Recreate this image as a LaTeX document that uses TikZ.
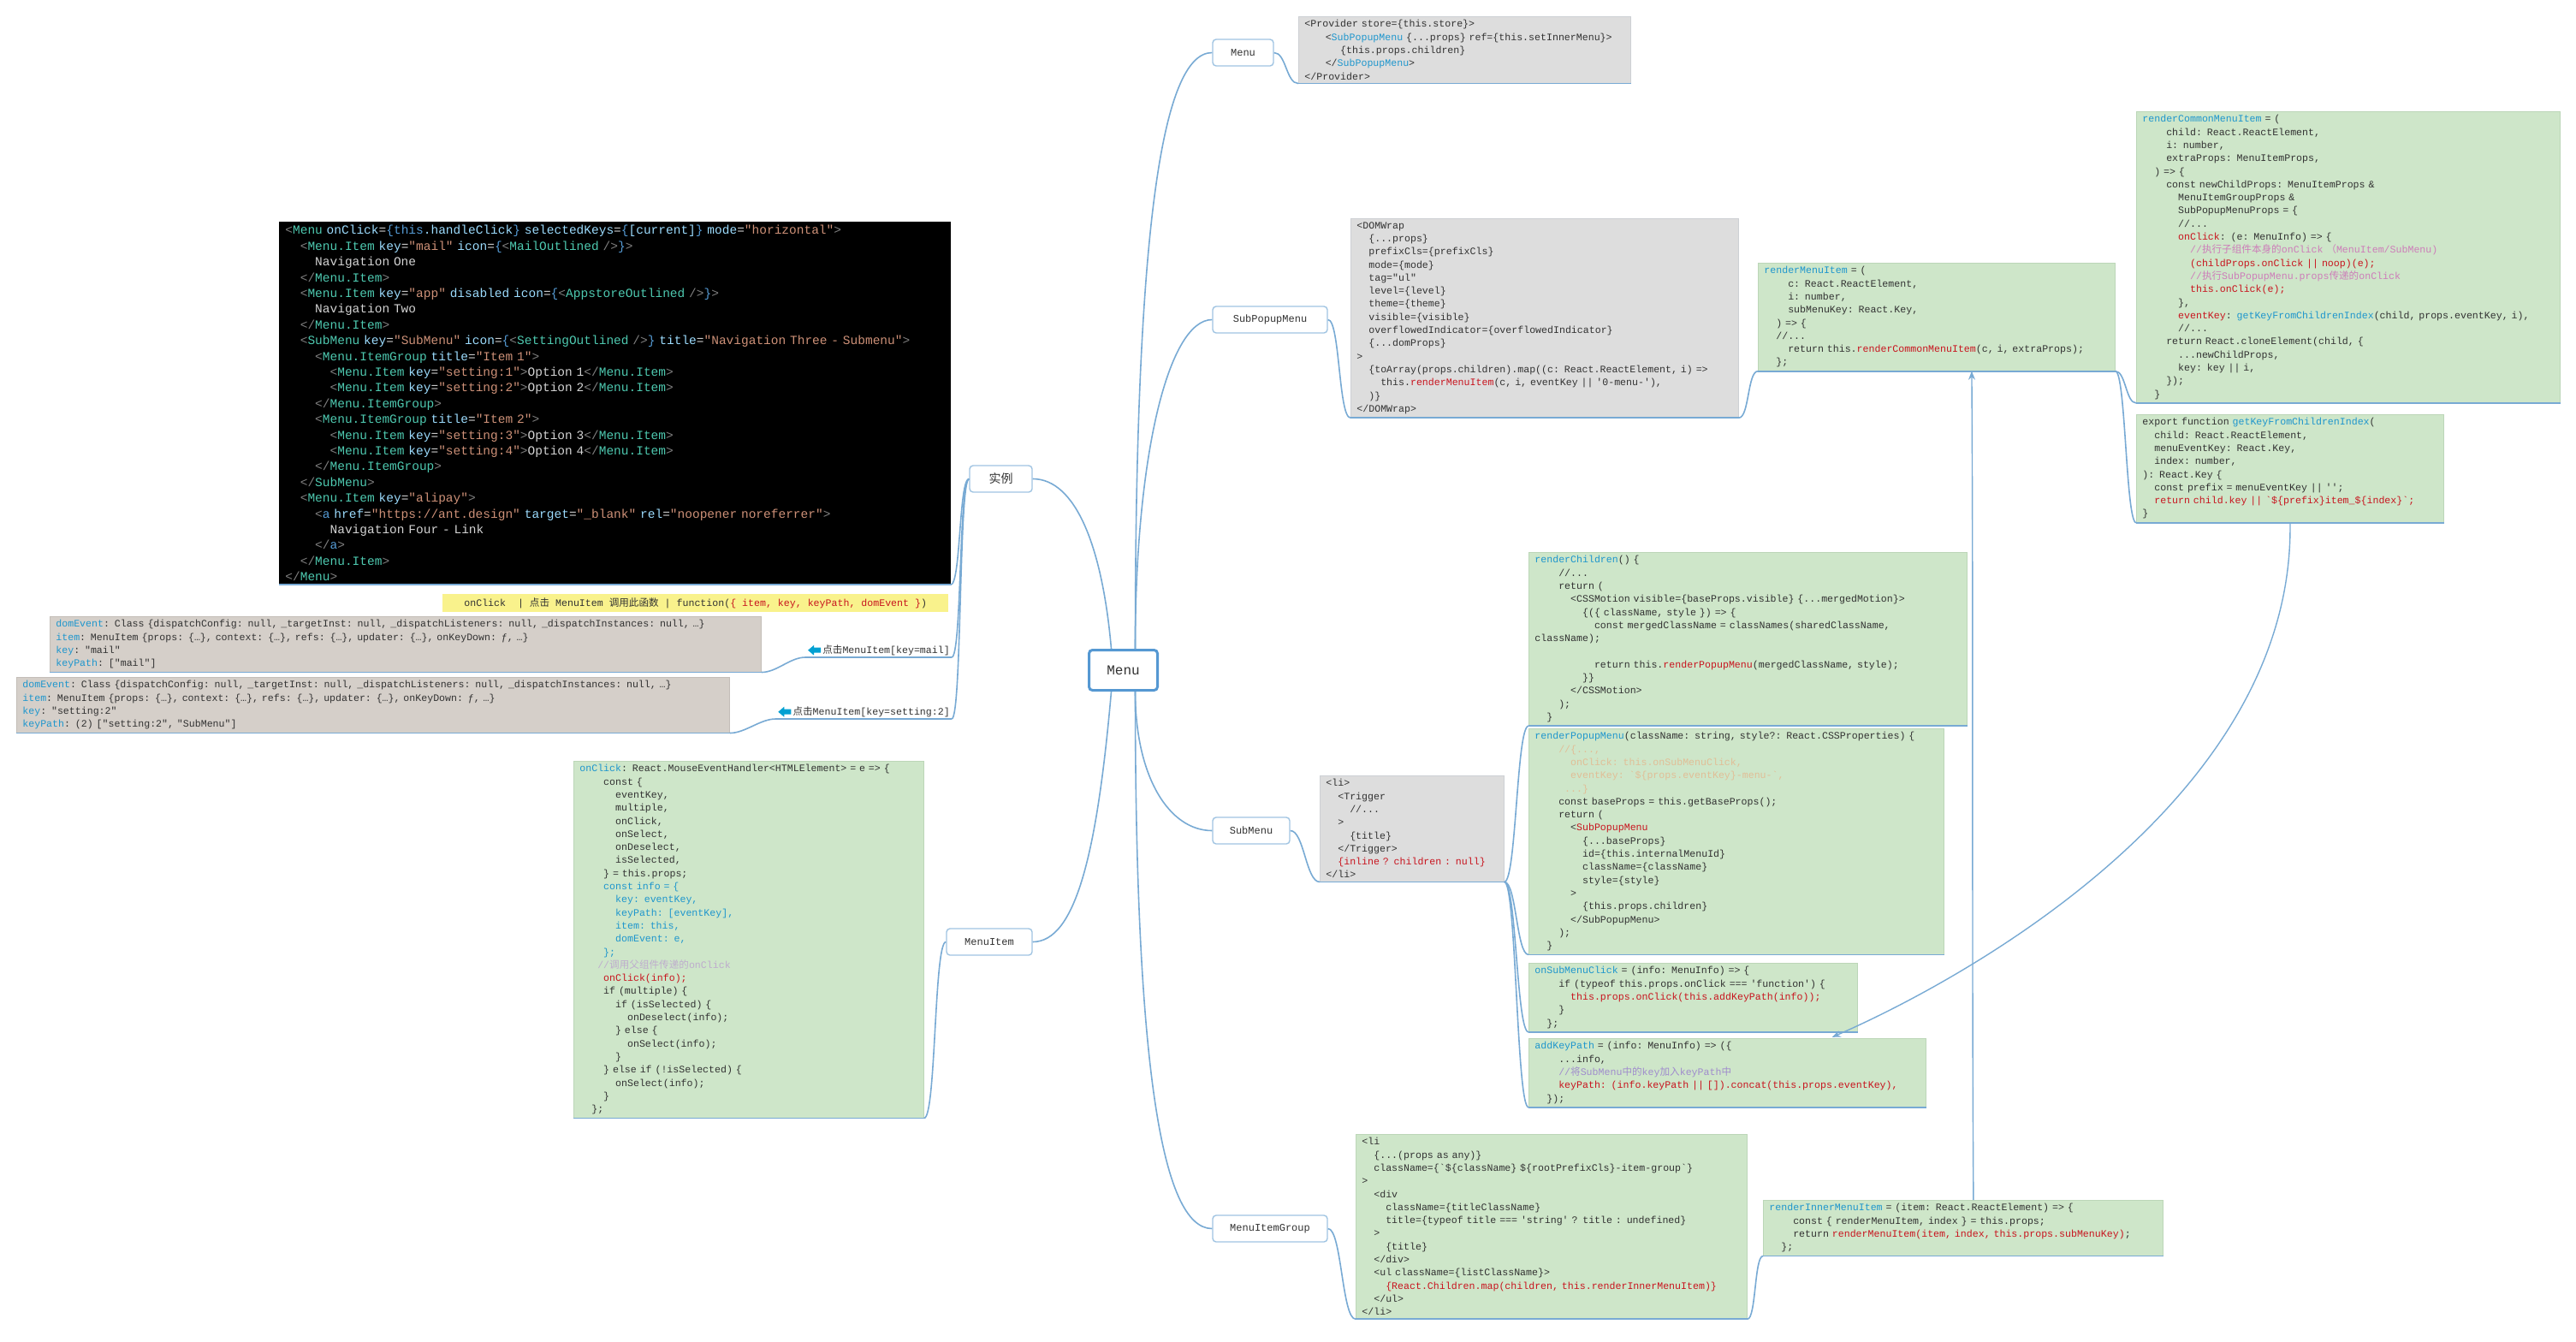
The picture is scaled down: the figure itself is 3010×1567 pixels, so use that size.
\documentclass[tikz,border=0pt]{standalone}
\usepackage{fontspec}
\setmainfont{Liberation Serif}
\setmonofont{Liberation Mono}
\newfontfamily\cjkf{Noto Sans CJK SC}
\usetikzlibrary{arrows.meta}
\definecolor{tx}{RGB}{50,50,50}
\definecolor{kblue}{RGB}{30,150,205}
\definecolor{kred}{RGB}{200,20,30}
\definecolor{kpink}{RGB}{205,125,185}
\definecolor{korange}{RGB}{225,190,150}
\definecolor{kviolet}{RGB}{160,140,205}
\definecolor{kgray}{RGB}{190,172,205}
\definecolor{greenc}{RGB}{206,230,201}
\definecolor{greenb}{RGB}{188,214,184}
\definecolor{grayc}{RGB}{221,221,221}
\definecolor{grayb}{RGB}{205,208,212}
\definecolor{domc}{RGB}{213,207,201}
\definecolor{domb}{RGB}{196,190,184}
\definecolor{yelc}{RGB}{249,242,140}
\definecolor{connc}{RGB}{120,170,212}
\definecolor{topicb}{RGB}{160,196,226}
\definecolor{centerb}{RGB}{85,152,210}
\definecolor{arrc}{RGB}{0,160,210}
\definecolor{dtag}{RGB}{78,201,176}
\definecolor{dattr}{RGB}{156,220,254}
\definecolor{dstr}{RGB}{206,145,120}
\definecolor{dpun}{RGB}{128,128,128}
\definecolor{dkey}{RGB}{86,156,214}
\definecolor{dtext}{RGB}{212,212,212}
\newlength\cw
\newcommand\ind[1]{\setlength\cw{0.6em}\hspace*{#1\cw}}
\newcommand\zh[1]{{\cjkf #1}}
\newcommand\kB[1]{\textcolor{kblue}{#1}}
\newcommand\kR[1]{\textcolor{kred}{#1}}
\newcommand\kP[1]{\textcolor{kpink}{#1}}
\newcommand\kO[1]{\textcolor{korange}{#1}}
\newcommand\kV[1]{\textcolor{kviolet}{#1}}
\newcommand\kG[1]{\textcolor{kgray}{#1}}
\newcommand\dT[1]{\textcolor{dtag}{#1}}
\newcommand\dA[1]{\textcolor{dattr}{#1}}
\newcommand\dS[1]{\textcolor{dstr}{"#1"}}
\newcommand\dP[1]{\textcolor{dpun}{#1}}
\newcommand\dK[1]{\textcolor{dkey}{#1}}
\newcommand\dO[1]{\dP{<}\dT{#1}}
\newcommand\dC[1]{\dP{</}\dT{#1}\dP{>}}
\newcommand\dG{\dP{>}}
\newcommand\dAt[2]{\dA{#1}=\dS{#2}}
\tikzset{
  conn/.style={draw=connc, line width=1.6pt},
  rel/.style={draw=connc, line width=1.4pt, -{Stealth[length=10pt,width=8pt]}},
  topic/.style={draw=topicb, line width=1.4pt, fill=white, rounded corners=4pt, text=tx, font=\ttfamily\fontsize{12}{14}\selectfont, minimum height=31pt, inner sep=2pt},
  codebox/.style={anchor=north west, align=left, inner xsep=7pt, inner ysep=4pt, text=tx, font=\ttfamily\fontsize{11.6}{15.3}\selectfont, line width=0.8pt},
  grbox/.style={codebox, fill=greenc, draw=greenb},
  gybox/.style={codebox, fill=grayc, draw=grayb},
  dmbox/.style={codebox, fill=domc, draw=domb},
  lab/.style={anchor=south east, inner sep=2pt, text=tx, font=\ttfamily\fontsize{11.6}{14}\selectfont},
  xm/.style={out=0,in=180,out distance=#1,in distance=#1},
  xl/.style={out=180,in=0,out distance=#1,in distance=#1},
}
\begin{document}
\begin{tikzpicture}[x=1pt,y=-1pt]
\useasboundingbox (0,0) rectangle (3010,1567);
\fill[white] (0,0) rectangle (3010,1567);

% ---------- topics ----------
\node[topic, draw=centerb, line width=3pt, minimum width=80pt, minimum height=47pt, font=\ttfamily\fontsize{16}{18}\selectfont] (center) at (1312.5,783) {Menu};
\node[topic, minimum width=71pt] (menutop) at (1452.5,61.5) {Menu};
\node[topic, minimum width=134pt] (subpopup) at (1484,373.5) {SubPopupMenu};
\node[topic, minimum width=90pt] (submenu) at (1462,970.5) {SubMenu};
\node[topic, minimum width=134pt] (itemgroup) at (1484,1435.5) {MenuItemGroup};
\node[topic, minimum width=73pt, font=\cjkf\fontsize{14}{16}\selectfont] (shili) at (1169.5,559.5) {实例};
\node[topic, minimum width=100pt] (menuitem) at (1156,1100.5) {MenuItem};

% ---------- example (black) ----------
\node[codebox, fill=black, draw=black, text=dtext, text width=770pt, font=\ttfamily\fontsize{14.5}{18.4}\selectfont] (blk) at (326,259) {%
\dO{Menu} \dA{onClick}=\dK{\{this}\dA{.handleClick}\dK{\}} \dA{selectedKeys}=\dK{\{}\dA{[current]}\dK{\}} \dAt{mode}{horizontal}\dG\\
\ind{2}\dO{Menu.Item} \dAt{key}{mail} \dA{icon}=\dK{\{}\dO{MailOutlined} \dP{/>}\dK{\}}\dG\\
\ind{4}Navigation One\\
\ind{2}\dC{Menu.Item}\\
\ind{2}\dO{Menu.Item} \dAt{key}{app} \dA{disabled} \dA{icon}=\dK{\{}\dO{AppstoreOutlined} \dP{/>}\dK{\}}\dG\\
\ind{4}Navigation Two\\
\ind{2}\dC{Menu.Item}\\
\ind{2}\dO{SubMenu} \dAt{key}{SubMenu} \dA{icon}=\dK{\{}\dO{SettingOutlined} \dP{/>}\dK{\}} \dAt{title}{Navigation Three - Submenu}\dG\\
\ind{4}\dO{Menu.ItemGroup} \dAt{title}{Item 1}\dG\\
\ind{6}\dO{Menu.Item} \dAt{key}{setting:1}\dG Option 1\dC{Menu.Item}\\
\ind{6}\dO{Menu.Item} \dAt{key}{setting:2}\dG Option 2\dC{Menu.Item}\\
\ind{4}\dC{Menu.ItemGroup}\\
\ind{4}\dO{Menu.ItemGroup} \dAt{title}{Item 2}\dG\\
\ind{6}\dO{Menu.Item} \dAt{key}{setting:3}\dG Option 3\dC{Menu.Item}\\
\ind{6}\dO{Menu.Item} \dAt{key}{setting:4}\dG Option 4\dC{Menu.Item}\\
\ind{4}\dC{Menu.ItemGroup}\\
\ind{2}\dC{SubMenu}\\
\ind{2}\dO{Menu.Item} \dAt{key}{alipay}\dG\\
\ind{4}\dP{<}\dK{a} \dAt{href}{https://ant.design} \dAt{target}{\_blank} \dAt{rel}{noopener noreferrer}\dG\\
\ind{6}Navigation Four - Link\\
\ind{4}\dP{</}\dK{a}\dP{>}\\
\ind{2}\dC{Menu.Item}\\
\dC{Menu}};

\node[anchor=north west, fill=yelc, minimum width=591pt, minimum height=21pt, inner sep=2pt, text=tx, font=\ttfamily\fontsize{11.6}{14}\selectfont] (yel) at (517,694) {onClick\ind{1} | \zh{点击} MenuItem \zh{调用此函数} | function(\kR{\{ item, key, keyPath, domEvent \}})};

\node[lab] (lab1) at (1112,768) {\hspace*{18pt}\zh{点击}MenuItem[key=mail]};
\node[lab] (lab2) at (1112,840) {\hspace*{18pt}\zh{点击}MenuItem[key=setting:2]};
\fill[arrc] ([xshift=3pt]lab1.west) -- ++(7,-6) -- ++(0,3) -- ++(8,0) -- ++(0,6) -- ++(-8,0) -- ++(0,3) -- cycle;
\fill[arrc] ([xshift=3pt]lab2.west) -- ++(7,-6) -- ++(0,3) -- ++(8,0) -- ++(0,6) -- ++(-8,0) -- ++(0,3) -- cycle;

\node[dmbox, text width=817pt] (dom1) at (58,720) {%
\kB{domEvent}: Class \{dispatchConfig: null, \_targetInst: null, \_dispatchListeners: null, \_dispatchInstances: null, …\}\\
\kB{item}: MenuItem \{props: \{…\}, context: \{…\}, refs: \{…\}, updater: \{…\}, onKeyDown: ƒ, …\}\\
\kB{key}: "mail"\\
\kB{keyPath}: ["mail"]};

\node[dmbox, text width=819pt] (dom2) at (19,791) {%
\kB{domEvent}: Class \{dispatchConfig: null, \_targetInst: null, \_dispatchListeners: null, \_dispatchInstances: null, …\}\\
\kB{item}: MenuItem \{props: \{…\}, context: \{…\}, refs: \{…\}, updater: \{…\}, onKeyDown: ƒ, …\}\\
\kB{key}: "setting:2"\\
\kB{keyPath}: (2) ["setting:2", "SubMenu"]};

% ---------- Menu ----------
\node[gybox, text width=374pt] (prov) at (1517,19) {%
<Provider store=\{this.store\}>\\
\ind{3.5}<\kB{SubPopupMenu} \{...props\} ref=\{this.setInnerMenu\}>\\
\ind{6}\{this.props.children\}\\
\ind{3.5}</\kB{SubPopupMenu}>\\
</Provider>};

% ---------- SubPopupMenu ----------
\node[gybox, text width=439pt] (domw) at (1578,255) {%
<DOMWrap\\
\ind{2}\{...props\}\\
\ind{2}prefixCls=\{prefixCls\}\\
\ind{2}mode=\{mode\}\\
\ind{2}tag="ul"\\
\ind{2}level=\{level\}\\
\ind{2}theme=\{theme\}\\
\ind{2}visible=\{visible\}\\
\ind{2}overflowedIndicator=\{overflowedIndicator\}\\
\ind{2}\{...domProps\}\\
>\\
\ind{2}\{toArray(props.children).map((c: React.ReactElement, i) =>\\
\ind{4}this.\kR{renderMenuItem}(c, i, eventKey || '0-menu-'),\\
\ind{2})\}\\
</DOMWrap>};

\node[grbox, text width=403pt] (rmi) at (2054,307) {%
\kB{renderMenuItem} = (\\
\ind{4}c: React.ReactElement,\\
\ind{4}i: number,\\
\ind{4}subMenuKey: React.Key,\\
\ind{2}) => \{\\
\ind{2}//...\\
\ind{4}return this.\kR{renderCommonMenuItem}(c, i, extraProps);\\
\ind{2}\};};

\node[grbox, text width=481pt] (rcmi) at (2496,130) {%
\kB{renderCommonMenuItem} = (\\
\ind{4}child: React.ReactElement,\\
\ind{4}i: number,\\
\ind{4}extraProps: MenuItemProps,\\
\ind{2}) => \{\\
\ind{4}const newChildProps: MenuItemProps \&\\
\ind{6}MenuItemGroupProps \&\\
\ind{6}SubPopupMenuProps = \{\\
\ind{6}//...\\
\ind{6}\kR{onClick}: (e: MenuInfo) => \{\\
\ind{8}\kP{//\zh{执行子组件本身的}onClick \zh{（}MenuItem/SubMenu)}\\
\ind{8}\kR{(childProps.onClick || noop)(e);}\\
\ind{8}\kP{//\zh{执行}SubPopupMenu.props\zh{传递的}onClick}\\
\ind{8}\kR{this.onClick(e);}\\
\ind{6}\},\\
\ind{6}\kR{eventKey}: \kB{getKeyFromChildrenIndex}(child, props.eventKey, i),\\
\ind{6}//...\\
\ind{4}return React.cloneElement(child, \{\\
\ind{6}...newChildProps,\\
\ind{6}key: key || i,\\
\ind{4}\});\\
\ind{2}\}};

\node[grbox, text width=345pt] (gk) at (2496,484) {%
export function \kB{getKeyFromChildrenIndex}(\\
\ind{2}child: React.ReactElement,\\
\ind{2}menuEventKey: React.Key,\\
\ind{2}index: number,\\
): React.Key \{\\
\ind{2}const prefix = menuEventKey || '';\\
\ind{2}\kR{return child.key || `\$\{prefix\}item\_\$\{index\}`;}\\
\}};

% ---------- SubMenu ----------
\node[gybox, text width=201pt] (li1) at (1542,906) {%
<li>\\
\ind{2}<Trigger\\
\ind{4}//...\\
\ind{2}>\\
\ind{4}\{title\}\\
\ind{2}</Trigger>\\
\ind{2}\kR{\{inline ? children : null\}}\\
</li>};

\node[grbox, text width=498pt] (rc) at (1786,645) {%
\kB{renderChildren}() \{\\
\ind{4}//...\\
\ind{4}return (\\
\ind{6}<CSSMotion visible=\{baseProps.visible\} \{...mergedMotion\}>\\
\ind{8}\{(\{ className, style \}) => \{\\
\ind{10}const mergedClassName = classNames(sharedClassName,\\
className);\\
\mbox{}\\
\ind{10}return this.\kR{renderPopupMenu}(mergedClassName, style);\\
\ind{8}\}\}\\
\ind{6}</CSSMotion>\\
\ind{4});\\
\ind{2}\}};

\node[grbox, text width=471pt] (rpm) at (1786,851) {%
\kB{renderPopupMenu}(className: string, style?: React.CSSProperties) \{\\
\ind{4}\kO{//\{...,}\\
\ind{6}\kO{onClick: this.onSubMenuClick,}\\
\ind{6}\kO{eventKey: `\$\{props.eventKey\}-menu-`,}\\
\ind{5}\kO{...\}}\\
\ind{4}const baseProps = this.getBaseProps();\\
\ind{4}return (\\
\ind{6}<\kR{SubPopupMenu}\\
\ind{8}\{...baseProps\}\\
\ind{8}id=\{this.internalMenuId\}\\
\ind{8}className=\{className\}\\
\ind{8}style=\{style\}\\
\ind{6}>\\
\ind{8}\{this.props.children\}\\
\ind{6}</SubPopupMenu>\\
\ind{4});\\
\ind{2}\}};

\node[grbox, text width=370pt] (osc) at (1786,1125) {%
\kB{onSubMenuClick} = (info: MenuInfo) => \{\\
\ind{4}if (typeof this.props.onClick === 'function') \{\\
\ind{6}\kR{this.props.onClick(this.addKeyPath(info));}\\
\ind{4}\}\\
\ind{2}\};};

\node[grbox, text width=450pt] (akp) at (1786,1213) {%
\kB{addKeyPath} = (info: MenuInfo) => (\{\\
\ind{4}...info,\\
\ind{4}\kV{//\zh{将}SubMenu\zh{中的}key\zh{加入}keyPath\zh{中}}\\
\ind{4}\kR{keyPath: (info.keyPath || []).concat(this.props.eventKey),}\\
\ind{2}\});};

% ---------- MenuItem ----------
\node[grbox, text width=395pt] (mi) at (670,889) {%
\kB{onClick}: React.MouseEventHandler<HTMLElement> = e => \{\\
\ind{4}const \{\\
\ind{6}eventKey,\\
\ind{6}multiple,\\
\ind{6}onClick,\\
\ind{6}onSelect,\\
\ind{6}onDeselect,\\
\ind{6}isSelected,\\
\ind{4}\} = this.props;\\
\ind{4}\kB{const info = \{}\\
\ind{6}\kB{key: eventKey,}\\
\ind{6}\kB{keyPath: [eventKey],}\\
\ind{6}\kB{item: this,}\\
\ind{6}\kB{domEvent: e,}\\
\ind{4}\kB{\};}\\
\ind{3}\kG{//\zh{调用父组件传递的}onClick}\\
\ind{4}\kR{onClick(info);}\\
\ind{4}if (multiple) \{\\
\ind{6}if (isSelected) \{\\
\ind{8}onDeselect(info);\\
\ind{6}\} else \{\\
\ind{8}onSelect(info);\\
\ind{6}\}\\
\ind{4}\} else if (!isSelected) \{\\
\ind{6}onSelect(info);\\
\ind{4}\}\\
\ind{2}\};};

% ---------- MenuItemGroup ----------
\node[grbox, text width=443pt] (li2) at (1584,1325) {%
<li\\
\ind{2}\{...(props as any)\}\\
\ind{2}className=\{`\$\{className\} \$\{rootPrefixCls\}-item-group`\}\\
>\\
\ind{2}<div\\
\ind{4}className=\{titleClassName\}\\
\ind{4}title=\{typeof title === 'string' ? title : undefined\}\\
\ind{2}>\\
\ind{4}\{title\}\\
\ind{2}</div>\\
\ind{2}<ul className=\{listClassName\}>\\
\ind{4}\kR{\{React.Children.map(children, this.renderInnerMenuItem)\}}\\
\ind{2}</ul>\\
</li>};

\node[grbox, text width=453pt] (rimi) at (2060,1402) {%
\kB{renderInnerMenuItem} = (item: React.ReactElement) => \{\\
\ind{4}const \{ renderMenuItem, index \} = this.props;\\
\ind{4}return \kR{renderMenuItem(item, index, this.props.subMenuKey)};\\
\ind{2}\};};

% ---------- underlines ----------
\foreach \n in {prov,domw,rmi,rcmi,gk,rc,rpm,li1,osc,akp,mi,li2,rimi,dom1,dom2,blk,lab1,lab2}
  \draw[conn] (\n.south west) -- (\n.south east);

% ---------- connectors from the central topic ----------
\draw[conn] ([xshift=14pt]center.north) to[out=90,in=180,out distance=480pt,in distance=60pt] (menutop.west);
\draw[conn] ([xshift=14pt]center.north) to[out=90,in=180,out distance=230pt,in distance=50pt] (subpopup.west);
\draw[conn] ([xshift=-14pt]center.north) to[out=95,in=0,out distance=120pt,in distance=50pt] (shili.east);
\draw[conn] ([xshift=14pt]center.south) to[out=-90,in=180,out distance=100pt,in distance=50pt] (submenu.west);
\draw[conn] ([xshift=14pt]center.south) to[out=-90,in=180,out distance=430pt,in distance=60pt] (itemgroup.west);
\draw[conn] ([xshift=-14pt]center.south) to[out=-95,in=0,out distance=190pt,in distance=50pt] (menuitem.east);

% ---------- child connectors ----------
\draw[conn] (menutop.east) to[xm=14pt] (prov.south west);
\draw[conn] (subpopup.east) to[xm=14pt] (domw.south west);
\draw[conn] (domw.south east) to[xm=12pt] (rmi.south west);
\draw[conn] (rmi.south east) to[xm=12pt] (rcmi.south west);
\draw[conn] (rmi.south east) to[xm=12pt] (gk.south west);
\draw[conn] (submenu.east) to[xm=16pt] (li1.south west);
\foreach \t in {rc,rpm,osc,akp} \draw[conn] (li1.south east) to[xm=14pt] (\t.south west);
\draw[conn] (itemgroup.east) to[xm=16pt] (li2.south west);
\draw[conn] (li2.south east) to[xm=10pt] (rimi.south west);
\draw[conn] (menuitem.west) to[xl=14pt] (mi.south east);
\draw[conn] (shili.west) to[xl=12pt] (blk.south east);
\draw[conn] (shili.west) to[xl=12pt] (lab1.south east);
\draw[conn] (shili.west) to[xl=12pt] (lab2.south east);
\draw[conn] (lab1.south west) to[xl=18pt] (dom1.south east);
\draw[conn] (lab2.south west) to[xl=18pt] (dom2.south east);

% ---------- relationship arrows ----------
\coordinate (tipA) at ([xshift=-30pt,yshift=-6pt]osc.south east);
\draw[rel] (gk.south) .. controls +(5,320) and +(160,-70) .. (tipA);
\draw[rel] ([xshift=12pt]rimi.north) .. controls +(-2,-300) and +(2,300) .. ([xshift=41pt]rmi.south);
\end{tikzpicture}
\end{document}
